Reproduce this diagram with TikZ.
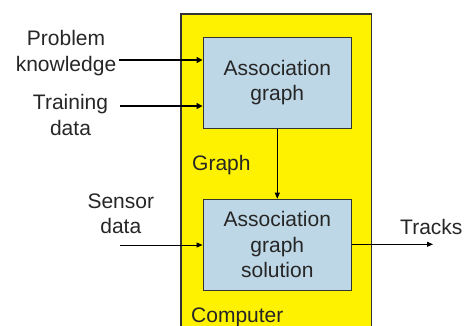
\documentclass[tikz,border=0pt]{standalone}
\usepackage{fontspec}
\setmainfont{Liberation Sans}
\usetikzlibrary{arrows.meta}
\begin{document}
\begin{tikzpicture}[x=1pt,y=-1pt,
  txt/.style={font=\fontsize{21}{25.5}\selectfont, text=black!85, inner sep=0pt, align=center},
  blue box/.style={draw=black!80, line width=1pt, fill={rgb,255:red,190;green,215;blue,230}, minimum width=148.5pt, minimum height=91pt, inner sep=0pt, align=center, font=\fontsize{21}{25.5}\selectfont, text=black!85},
  arr/.style={-{Triangle[length=6pt,width=5pt]}, line width=0.8pt},
  thickarr/.style={-{Triangle[length=6pt,width=6pt]}, line width=1.7pt}]
\useasboundingbox (0,0) rectangle (465,325);
% computer box
\fill[yellow] (181,14) rectangle (371.5,326);
\draw[black!80, line width=1.2pt] (181,326) -- (181,14) -- (371.5,14) -- (371.5,326);
\node[blue box] (ag) at (277.3,82.7) {Association\\graph};
\node[blue box] (ags) at (277.3,244.7) {Association\\graph\\solution};
\node[txt, anchor=center] (pk) at (66,53) {Problem\\knowledge};
\node[txt, anchor=center] (td) at (70.5,115) {Training\\data};
\node[txt, anchor=center] (sd) at (120.8,214) {Sensor\\data};
\node[txt, anchor=base west] (graph) at (192,170) {Graph};
\node[txt, anchor=base west] (comp) at (191,322) {Computer};
\node[txt, anchor=base west] (tracks) at (400,234) {Tracks};
\coordinate (pkend) at (119,60);
\coordinate (tdend) at (120,106);
\coordinate (sdend) at (120,245);
\coordinate (trend) at (433,244.3);
\draw[thickarr] (pkend) -- (pkend -| ag.west);
\draw[thickarr] (tdend) -- (tdend -| ag.west);
\draw[arr] (sdend) -- (sdend -| ags.west);
\draw[arr] (ags.east |- trend) -- (trend);
\draw[arr] (ag.south) -- (ags.north);
\end{tikzpicture}
\end{document}
